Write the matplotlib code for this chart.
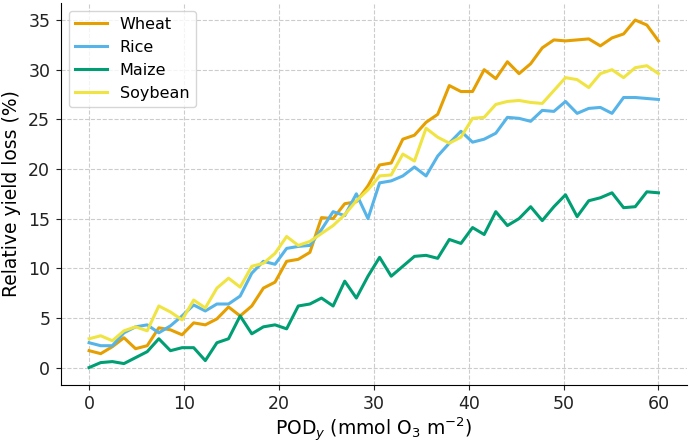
import numpy as np
import matplotlib
matplotlib.use("Agg")
import matplotlib.pyplot as plt

pod = np.linspace(0, 60, 50)

wheat = [1.7, 1.4, 2.1, 3.0, 1.9, 2.2, 4.0, 3.8, 3.3, 4.5,
         4.3, 4.9, 6.1, 5.2, 6.2, 8.0, 8.6, 10.7, 10.9, 11.6,
         15.1, 15.0, 16.5, 16.7, 18.3, 20.4, 20.6, 23.0, 23.4, 24.7,
         25.5, 28.4, 27.8, 27.8, 30.0, 29.1, 30.8, 29.6, 30.6, 32.2,
         33.0, 32.9, 33.0, 33.1, 32.4, 33.2, 33.6, 35.0, 34.5, 32.9]
rice = [2.5, 2.2, 2.2, 3.5, 4.1, 4.3, 3.5, 4.2, 5.2, 6.3,
        5.7, 6.4, 6.4, 7.2, 9.5, 10.7, 10.4, 12.0, 12.2, 12.3,
        13.9, 15.7, 15.3, 17.5, 15.0, 18.6, 18.8, 19.3, 20.2, 19.3,
        21.3, 22.6, 23.8, 22.7, 23.0, 23.6, 25.2, 25.1, 24.8, 25.9,
        25.8, 26.8, 25.6, 26.1, 26.2, 25.6, 27.2, 27.2, 27.1, 27.0]
maize = [0.0, 0.5, 0.6, 0.4, 1.0, 1.6, 2.9, 1.7, 2.0, 2.0,
         0.7, 2.5, 2.9, 5.2, 3.4, 4.1, 4.3, 3.9, 6.2, 6.4,
         7.0, 6.2, 8.7, 7.0, 9.2, 11.1, 9.2, 10.2, 11.2, 11.3,
         11.0, 12.9, 12.5, 14.1, 13.4, 15.7, 14.3, 15.0, 16.2, 14.8,
         16.2, 17.4, 15.2, 16.8, 17.1, 17.6, 16.1, 16.2, 17.7, 17.6]
soybean = [2.9, 3.2, 2.7, 3.7, 4.1, 3.7, 6.2, 5.6, 4.8, 6.8,
           6.0, 8.0, 9.0, 8.1, 10.2, 10.5, 11.5, 13.2, 12.3, 12.7,
           13.5, 14.3, 15.4, 16.8, 17.9, 19.3, 19.4, 21.5, 20.8, 24.1,
           23.2, 22.6, 23.2, 25.1, 25.2, 26.5, 26.8, 26.9, 26.7, 26.6,
           27.9, 29.2, 29.0, 28.2, 29.6, 30.0, 29.2, 30.2, 30.4, 29.6]

crops = ["Wheat", "Rice", "Maize", "Soybean"]
series = [wheat, rice, maize, soybean]
colors = ["#E69F00", "#56B4E9", "#009E73", "#F0E442"]

fig, ax = plt.subplots(figsize=(6.89, 4.45), dpi=100)
fig.subplots_adjust(left=0.088, right=0.997, bottom=0.135, top=0.994)
for name, vals, c in zip(crops, series, colors):
    ax.plot(pod, vals, color=c, lw=2.2, label=name)

ax.grid(True, ls="--", color="#cccccc", lw=0.8)
ax.set_axisbelow(True)
for s in ["top", "right"]:
    ax.spines[s].set_visible(False)
ax.tick_params(labelsize=12.5, colors="#222222", pad=4)
ax.set_xlabel(r"POD$_y$ (mmol O$_3$ m$^{-2}$)", fontsize=13.5, labelpad=2)
ax.set_ylabel("Relative yield loss (%)", fontsize=13.5, labelpad=5)
ax.legend(loc="upper left", fontsize=11.5)

fig.savefig("out.png")
